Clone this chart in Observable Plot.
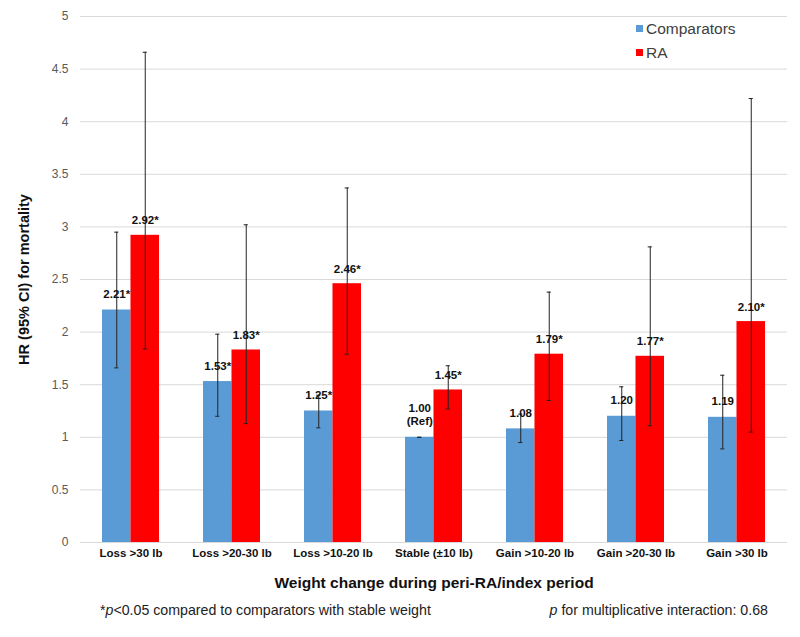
<!DOCTYPE html>
<html>
<head>
<meta charset="utf-8">
<script src="https://cdn.jsdelivr.net/npm/d3@7"></script>
<script src="https://cdn.jsdelivr.net/npm/@observablehq/plot@0.6"></script>
<style>
  html, body { margin: 0; padding: 0; background: #fff; }
  #wrap { position: relative; width: 800px; height: 637px; font-family: "Liberation Sans", Arial, sans-serif; }
  #wrap svg [aria-label="y-axis label"] text { font-weight: bold; font-size: 14.5px; fill: #111; }
  #wrap svg [aria-label="x-axis label"] text { font-weight: bold; font-size: 15.5px; fill: #111; }
  .legend { position: absolute; left: 636px; font-size: 15.5px; color: #404040; line-height: 18px; }
  .legend i { display: inline-block; width: 7px; height: 7px; margin-right: 3px; vertical-align: 2px; }
  .foot { position: absolute; top: 602px; font-size: 14.2px; color: #222; }
</style>
</head>
<body>
<div id="wrap"></div>
<script>
const categories = ["Loss >30 lb", "Loss >20-30 lb", "Loss >10-20 lb", "Stable (±10 lb)", "Gain >10-20 lb", "Gain >20-30 lb", "Gain >30 lb"];
const seriesNames = ["Comparators", "RA"];
const comparatorHR = [2.21, 1.53, 1.25, 1.00, 1.08, 1.20, 1.19];
const comparatorLow = [1.66, 1.20, 1.09, 1.00, 0.95, 0.97, 0.89];
const comparatorHigh = [2.95, 1.98, 1.40, 1.00, 1.22, 1.48, 1.59];
const comparatorLabels = ["2.21*", "1.53*", "1.25*", "1.00\n(Ref)", "1.08", "1.20", "1.19"];
const raHR = [2.92, 1.83, 2.46, 1.45, 1.79, 1.77, 2.10];
const raLow = [1.84, 1.13, 1.79, 1.27, 1.35, 1.11, 1.05];
const raHigh = [4.66, 3.02, 3.37, 1.68, 2.38, 2.81, 4.22];
const raLabels = ["2.92*", "1.83*", "2.46*", "1.45*", "1.79*", "1.77*", "2.10*"];
const yTicks = [0, 0.5, 1, 1.5, 2, 2.5, 3, 3.5, 4, 4.5, 5];
const colors = ["#5b9bd5", "#ff0000"];

const comp = categories.map((c, i) => ({cat: c, hr: comparatorHR[i], lo: comparatorLow[i], hi: comparatorHigh[i], label: comparatorLabels[i]}));
const ra = categories.map((c, i) => ({cat: c, hr: raHR[i], lo: raLow[i], hi: raHigh[i], label: raLabels[i]}));

const half = 28.48;
const capIn = 12.2;

const chart = Plot.plot({
  width: 800,
  height: 600,
  marginLeft: 80,
  marginRight: 13,
  marginTop: 16,
  marginBottom: 58,
  style: {fontFamily: "'Liberation Sans', Arial, sans-serif", background: "transparent"},
  x: {domain: categories, paddingInner: 0.436, paddingOuter: 0.218},
  y: {domain: [0, 5]},
  marks: [
    Plot.gridY(yTicks, {stroke: "#d9d9d9", strokeOpacity: 1, strokeWidth: 1}),
    Plot.axisY(yTicks, {tickSize: 0, tickPadding: 12, fontSize: 12, fill: "#595959", tickFormat: d => String(d),
      label: "HR (95% CI) for mortality", labelAnchor: "center", labelOffset: 62, labelArrow: "none"}),
    Plot.axisX({tickSize: 0, tickPadding: 6, fontSize: 11.5, fontWeight: "bold", fill: "#111",
      label: "Weight change during peri-RA/index period", labelAnchor: "center", labelOffset: 45, labelArrow: "none"}),
    Plot.barY(comp, {x: "cat", y: "hr", fill: colors[0], insetRight: half}),
    Plot.barY(ra, {x: "cat", y: "hr", fill: colors[1], insetLeft: half}),
    Plot.ruleX(comp, {x: "cat", y1: "lo", y2: "hi", dx: -half / 2, stroke: "#222", strokeWidth: 1}),
    Plot.ruleX(ra, {x: "cat", y1: "lo", y2: "hi", dx: half / 2, stroke: "#222", strokeWidth: 1}),
    Plot.tickY(comp, {x: "cat", y: "lo", insetLeft: capIn, insetRight: half + capIn, stroke: "#222"}),
    Plot.tickY(comp, {x: "cat", y: "hi", insetLeft: capIn, insetRight: half + capIn, stroke: "#222"}),
    Plot.tickY(ra, {x: "cat", y: "lo", insetLeft: half + capIn, insetRight: capIn, stroke: "#222"}),
    Plot.tickY(ra, {x: "cat", y: "hi", insetLeft: half + capIn, insetRight: capIn, stroke: "#222"}),
    Plot.text(comp, {x: "cat", y: "hr", text: "label", dx: -half / 2, dy: -12, lineAnchor: "bottom",
      fontWeight: "bold", fontSize: 11.5, fill: "#111", lineHeight: 1.15}),
    Plot.text(ra, {x: "cat", y: "hr", text: "label", dx: half / 2, dy: -11, lineAnchor: "bottom",
      fontWeight: "bold", fontSize: 11.5, fill: "#111"})
  ]
});

const wrap = document.getElementById("wrap");
wrap.appendChild(chart);

const legend = document.createElement("div");
legend.className = "legend";
legend.style.top = "20px";
legend.innerHTML = seriesNames.map((s, i) =>
  `<div style="margin-bottom:6px"><i style="background:${colors[i]}"></i>${s}</div>`).join("");
wrap.appendChild(legend);

const f1 = document.createElement("div");
f1.className = "foot";
f1.style.left = "100px";
f1.innerHTML = "*<i>p</i>&lt;0.05 compared to comparators with stable weight";
wrap.appendChild(f1);

const f2 = document.createElement("div");
f2.className = "foot";
f2.style.right = "32px";
f2.innerHTML = "<i>p</i> for multiplicative interaction: 0.68";
wrap.appendChild(f2);
</script>
</body>
</html>
